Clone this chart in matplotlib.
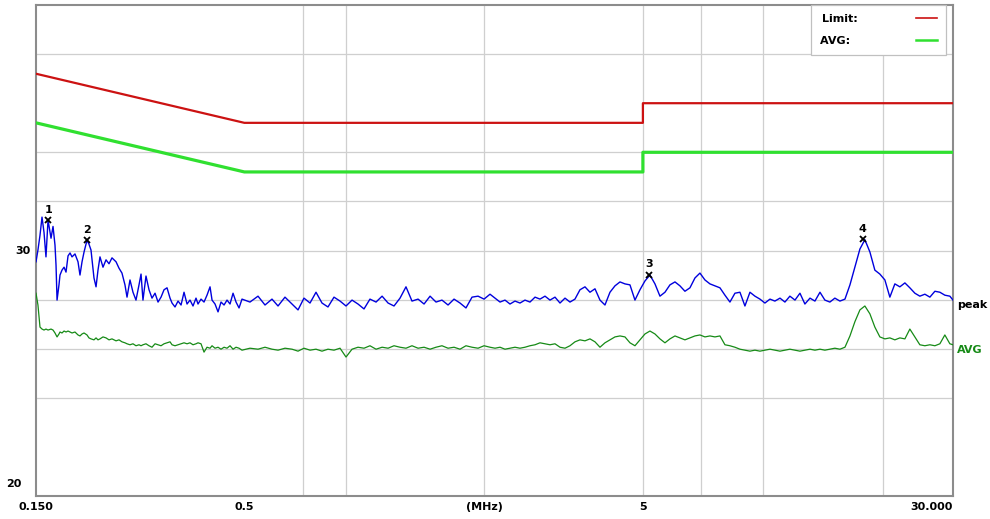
import matplotlib
matplotlib.use("Agg")
import matplotlib.pyplot as plt
import matplotlib.transforms as mtransforms
from matplotlib.ticker import NullLocator

# ==== DATA ====
FREQ_MHZ = [
    0.150, 0.1517, 0.1535, 0.1553, 0.1571, 0.1589, 0.1608, 0.1636, 0.1655, 0.1674,
    0.1684, 0.1694, 0.1713, 0.1723, 0.1743, 0.1764, 0.1784, 0.1805, 0.1826, 0.1847,
    0.1879, 0.1912, 0.1934, 0.1957, 0.1980, 0.2014, 0.2037, 0.2061, 0.2097, 0.2122,
    0.2146, 0.2171, 0.2209, 0.2248, 0.2287, 0.2327, 0.2382, 0.2423, 0.2465, 0.2508,
    0.2538, 0.2582, 0.2627, 0.2673, 0.2720, 0.2752, 0.2783, 0.2832, 0.2882, 0.2932,
    0.2984, 0.3036, 0.3089, 0.3143, 0.3198, 0.3254, 0.3292, 0.3349, 0.3408, 0.3468,
    0.3528, 0.3590, 0.3652, 0.3716, 0.3781, 0.3825, 0.3892, 0.3960, 0.4029, 0.4100,
    0.4148, 0.4220, 0.4294, 0.4369, 0.4446, 0.4523, 0.4602, 0.4683, 0.4765, 0.4848,
    0.4932, 0.5165, 0.5410, 0.5633, 0.5865, 0.6073, 0.6322, 0.6584, 0.6817, 0.7056,
    0.7306, 0.7563, 0.7830, 0.8105, 0.8392, 0.8689, 0.8995, 0.9313, 0.9640, 0.9981,
    1.033, 1.070, 1.108, 1.147, 1.187, 1.229, 1.272, 1.317, 1.364, 1.412,
    1.462, 1.513, 1.566, 1.622, 1.679, 1.738, 1.799, 1.863, 1.929, 1.997,
    2.067, 2.128, 2.190, 2.254, 2.320, 2.388, 2.458, 2.530, 2.604, 2.681,
    2.759, 2.840, 2.923, 3.009, 3.097, 3.188, 3.281, 3.377, 3.476, 3.578,
    3.683, 3.791, 3.902, 4.016, 4.134, 4.255, 4.380, 4.508, 4.640, 4.776,
    4.916, 5.060, 5.208, 5.361, 5.518, 5.680, 5.846, 6.018, 6.194, 6.375,
    6.562, 6.754, 6.952, 7.156, 7.366, 7.582, 7.804, 8.033, 8.268, 8.510,
    8.760, 9.016, 9.281, 9.553, 9.833, 10.12, 10.42, 10.72, 11.04, 11.36,
    11.69, 12.04, 12.39, 12.75, 13.13, 13.51, 13.91, 14.31, 14.73, 15.16,
    15.61, 16.07, 16.54, 17.02, 17.52, 18.03, 18.56, 19.10, 19.66, 20.24,
    20.83, 21.44, 22.07, 22.72, 23.38, 24.07, 24.77, 25.50, 26.25, 27.02,
    27.81, 28.62, 29.46, 30.0,
]

PEAK_DBUV = [
    27.7, 30.1, 33.1, 36.8, 33.7, 28.7, 36.2, 32.5, 34.9, 31.1,
    27.0, 19.9, 23.0, 25.0, 26.0, 26.6, 25.6, 28.9, 29.5, 28.7,
    29.3, 27.7, 25.0, 27.7, 29.7, 32.1, 31.3, 30.1, 24.4, 22.6,
    26.0, 28.7, 26.6, 28.1, 27.3, 28.5, 27.7, 26.4, 25.4, 23.0,
    20.5, 24.0, 21.5, 19.9, 23.0, 25.2, 19.9, 24.8, 22.0, 20.3,
    21.3, 19.5, 20.5, 22.0, 22.4, 20.3, 19.3, 18.5, 19.7, 18.9,
    21.5, 19.1, 19.9, 18.7, 20.3, 19.1, 20.1, 19.5, 20.9, 22.6,
    19.9, 19.1, 17.5, 19.5, 18.9, 19.9, 19.1, 21.3, 19.5, 18.3,
    20.1, 19.5, 20.7, 18.9, 20.1, 18.7, 20.5, 19.1, 17.9, 20.3,
    19.3, 21.5, 19.3, 18.5, 20.5, 19.7, 18.7, 19.9, 19.1, 18.1,
    20.1, 19.5, 20.7, 19.3, 18.7, 20.3, 22.6, 19.7, 20.1, 19.1,
    20.7, 19.5, 19.9, 18.9, 20.1, 19.3, 18.3, 20.5, 20.7, 20.1,
    21.1, 20.3, 19.5, 19.9, 19.1, 19.7, 19.3, 19.9, 19.5, 20.5,
    20.1, 20.7, 19.9, 20.5, 19.3, 20.3, 19.5, 20.1, 22.0, 22.6,
    21.5, 22.2, 19.9, 18.9, 21.5, 22.8, 23.6, 23.2, 23.0, 19.9,
    22.0, 23.8, 25.0, 23.2, 20.7, 21.5, 23.0, 23.6, 22.8, 21.7,
    22.4, 24.4, 25.4, 24.0, 23.2, 22.8, 22.4, 20.9, 19.5, 21.3,
    21.5, 18.7, 21.5, 20.7, 20.1, 19.3, 20.1, 19.7, 20.3, 19.5,
    20.7, 19.9, 21.3, 19.1, 20.3, 19.7, 21.5, 19.9, 19.5, 20.3,
    19.7, 20.1, 23.0, 26.6, 30.3, 32.2, 29.7, 26.0, 25.2, 24.0,
    20.5, 23.2, 22.6, 23.4, 22.4, 21.3, 20.7, 21.1, 20.5, 21.7,
    21.5, 20.9, 20.7, 19.9,
]

AVG_DBUV = [
    21.3, 18.9, 14.4, 14.0, 13.8, 14.0, 13.8, 14.0, 13.8, 13.2,
    12.8, 12.4, 13.0, 13.4, 13.2, 13.6, 13.4, 13.6, 13.4, 13.2,
    13.4, 12.8, 12.6, 13.0, 13.2, 12.8, 12.2, 12.0, 11.8, 12.2,
    11.8, 12.0, 12.4, 12.2, 11.8, 12.0, 11.6, 11.8, 11.4, 11.2,
    11.0, 10.8, 11.0, 10.6, 10.8, 10.6, 10.8, 11.0, 10.6, 10.3,
    11.0, 10.8, 10.6, 11.0, 11.2, 11.4, 10.8, 10.6, 10.8, 11.0,
    11.2, 11.0, 11.2, 10.8, 11.0, 11.2, 11.0, 9.3, 10.3, 10.1,
    10.6, 10.1, 10.3, 9.9, 10.3, 10.1, 10.6, 9.9, 10.3, 10.1,
    9.7, 10.1, 9.9, 10.3, 9.9, 9.7, 10.1, 9.9, 9.5, 10.1,
    9.7, 9.9, 9.5, 9.9, 9.7, 10.1, 8.3, 9.9, 10.3, 10.1,
    10.6, 9.9, 10.3, 10.1, 10.6, 10.3, 10.1, 10.6, 10.1, 10.3,
    9.9, 10.3, 10.6, 10.1, 10.3, 9.9, 10.6, 10.3, 10.1, 10.6,
    10.3, 10.1, 10.3, 9.9, 10.1, 10.3, 10.1, 10.3, 10.6, 10.8,
    11.2, 11.0, 10.8, 11.0, 10.3, 10.1, 10.6, 11.4, 11.8, 11.6,
    12.0, 11.4, 10.3, 11.2, 11.8, 12.4, 12.6, 12.4, 11.2, 10.6,
    11.8, 13.0, 13.6, 13.0, 12.0, 11.2, 12.0, 12.6, 12.2, 11.8,
    12.2, 12.6, 12.8, 12.4, 12.6, 12.4, 12.6, 10.8, 10.6, 10.3,
    9.9, 9.7, 9.5, 9.7, 9.5, 9.7, 9.9, 9.7, 9.5, 9.7,
    9.9, 9.7, 9.5, 9.7, 9.9, 9.7, 9.9, 9.7, 9.9, 10.1,
    9.9, 10.3, 12.6, 15.5, 17.9, 18.7, 17.1, 14.4, 12.4, 12.0,
    12.2, 11.8, 12.2, 12.0, 14.0, 12.4, 10.8, 10.6, 10.8, 10.6,
    11.0, 12.8, 11.0, 10.8,
]

LIMIT_FREQ = [0.15, 0.5, 5.0, 5.0, 30.0]
QP_LIMIT = [66, 56, 56, 60, 60]
AVG_LIMIT = [56, 46, 46, 50, 50]

MARKER_IDS = ["1", "2", "3", "4"]
MARKER_FREQ = [0.161, 0.201, 5.19, 17.8]
MARKER_LEVEL = [36.2, 32.1, 25.0, 32.3]

X_TICKS = [0.15, 0.5, 2.0, 5.0, 30.0]
X_TICK_LABELS = ["0.150", "0.5", "(MHz)", "5", "30.000"]
Y_TICKS = [-20, 30]
Y_TICK_LABELS = ["20", "30"]
H_GRID = [0, 10, 20, 30, 40, 50, 70]
V_GRID = [0.7, 0.9, 2, 5, 7, 10, 20]

# ==== COLOURS ====
PEAK_COLOR = "#0000dd"
AVG_COLOR = "#168a16"
QP_LIMIT_COLOR = "#cc1212"
AVG_LIMIT_COLOR = "#30e030"
GRID_COLOR = "#cfcfcf"
FRAME_COLOR = "#8c8c8c"

plt.rcParams['font.family'] = ['DejaVu Sans']

fig = plt.figure(figsize=(9.9, 5.19), dpi=100)
ax = fig.add_axes([36 / 990, 1 - 496 / 519, (953 - 36) / 990, (496 - 5) / 519])

ax.set_xscale("log")
ax.set_xlim(0.15, 30)
ax.set_ylim(-20, 80)

# grid (only the lines that show in the reference)
for y in H_GRID:
    ax.axhline(y, color=GRID_COLOR, lw=0.9, zorder=1)
for x in V_GRID:
    ax.axvline(x, color=GRID_COLOR, lw=0.9, zorder=1)

# limits
ax.plot(LIMIT_FREQ, QP_LIMIT, color=QP_LIMIT_COLOR, lw=1.6, label="Limit:", zorder=4)
# trailing spaces keep both legend texts flush left
ax.plot(LIMIT_FREQ, AVG_LIMIT, color=AVG_LIMIT_COLOR, lw=2.3, label="AVG:  ", zorder=4)

# measured traces
ax.plot(FREQ_MHZ, PEAK_DBUV, color=PEAK_COLOR, lw=1.0, zorder=3)
ax.plot(FREQ_MHZ, AVG_DBUV, color=AVG_COLOR, lw=0.9, zorder=3)

# markers
ax.plot(MARKER_FREQ, MARKER_LEVEL, "x", color="black", ms=5, mew=1.3, zorder=5)
for mid, f, lv in zip(MARKER_IDS, MARKER_FREQ, MARKER_LEVEL):
    ax.annotate(mid, (f, lv), xytext=(0, 4), textcoords="offset points",
                ha="center", va="bottom", fontsize=8, fontweight="bold", zorder=5)

# trace names at right edge
side = mtransforms.blended_transform_factory(ax.transAxes, ax.transData)
ax.text(1.004, PEAK_DBUV[-1], "peak", transform=side, ha="left", va="top",
        fontsize=8, fontweight="bold", color="black", clip_on=False)
ax.text(1.004, AVG_DBUV[-1], "AVG", transform=side, ha="left", va="top",
        fontsize=8, fontweight="bold", color=AVG_COLOR, clip_on=False)

# axes / ticks
ax.xaxis.set_minor_locator(NullLocator())
ax.set_xticks(X_TICKS)
ax.set_xticklabels(X_TICK_LABELS)
ax.set_yticks(Y_TICKS)
ax.set_yticklabels(Y_TICK_LABELS)
ax.tick_params(length=0, labelsize=8, pad=4)
for lbl in ax.get_xticklabels() + ax.get_yticklabels():
    lbl.set_fontweight("bold")
ax.get_xticklabels()[-1].set_horizontalalignment("right")
low = ax.get_yticklabels()[0]
low.set_transform(low.get_transform() +
                  mtransforms.ScaledTranslation(-9 / 100, 13 / 100, fig.dpi_scale_trans))

for s in ax.spines.values():
    s.set_color(FRAME_COLOR)
    s.set_linewidth(1.5)

leg = ax.legend(loc="upper right", bbox_to_anchor=(1 - 7 / 917, 1), markerfirst=False,
                fancybox=False, framealpha=1, edgecolor="#c0c0c0", borderaxespad=0,
                handlelength=1.9, handletextpad=5.2, labelspacing=1.1, borderpad=0.8,
                prop={"weight": "bold", "size": 8})
leg.get_frame().set_linewidth(0.9)
leg.get_lines()[0].set_linewidth(1.2)
leg.get_lines()[1].set_linewidth(1.8)

fig.savefig("out.png", dpi=100)
